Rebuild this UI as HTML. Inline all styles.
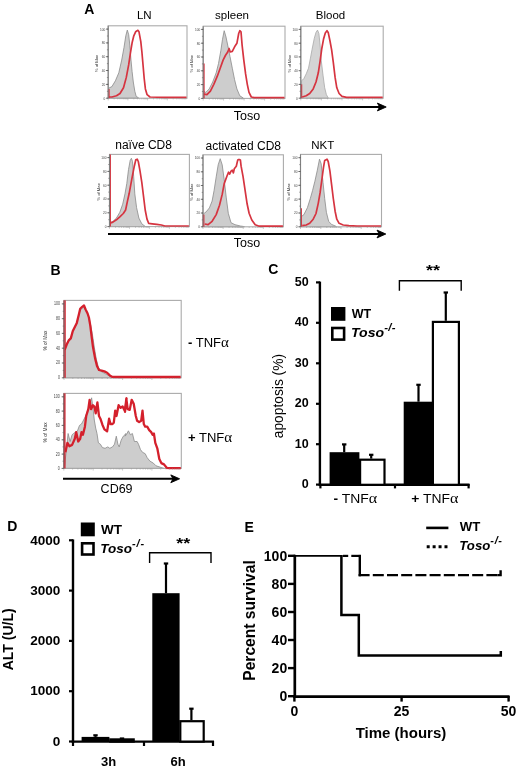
<!DOCTYPE html>
<html><head><meta charset="utf-8"><title>Figure</title>
<style>
html,body{margin:0;padding:0;background:#fff;}
body{width:520px;height:769px;overflow:hidden;}
svg{display:block;will-change:transform;font-family:"Liberation Sans",sans-serif;}
</style></head>
<body>
<svg width="520" height="769" viewBox="0 0 520 769">
<rect width="520" height="769" fill="#fff"/>
<text x="84.3" y="14.2" font-size="14" font-weight="bold" font-style="normal" text-anchor="start" fill="#000" >A</text>
<text x="144.3" y="18.7" font-size="11.5" font-weight="normal" font-style="normal" text-anchor="middle" fill="#000" >LN</text>
<text x="232" y="18.7" font-size="11.5" font-weight="normal" font-style="normal" text-anchor="middle" fill="#000" >spleen</text>
<text x="330.5" y="18.7" font-size="11.5" font-weight="normal" font-style="normal" text-anchor="middle" fill="#000" >Blood</text>
<polygon points="108.7,98.2 108.5,88.3 111.9,86.6 115.4,80.8 118.8,72.8 121.7,60.1 124.0,47.4 125.8,35.8 127.3,30.1 128.7,34.7 129.8,45.1 131.0,60.1 132.1,71.6 133.3,82.0 134.8,91.2 136.2,96.4 138.5,97.8 138.5,98.2" fill="#cdcdcd" stroke="#8a8a8a" stroke-width="0.8" stroke-linejoin="round"/>
<rect x="108.2" y="25.8" width="78.8" height="72.4" fill="none" stroke="#ababab" stroke-width="1.1"/>
<polyline points="109.0,97.0 111.9,97.0 116.5,95.8 120.0,93.5 123.5,87.8 126.3,77.4 128.7,64.7 130.4,53.2 132.1,42.8 133.8,35.8 135.6,31.8 137.9,30.3 139.0,31.8 140.8,41.6 141.9,52.0 143.1,65.8 144.2,78.5 145.4,88.9 147.1,94.7 150.0,97.0 165.0,97.4 186.5,97.4" fill="none" stroke="#d63440" stroke-width="1.7" stroke-linejoin="round"/>
<line x1="108.8" y1="98.2" x2="108.8" y2="89" stroke="#d63440" stroke-width="1.7"/>
<line x1="108.2" y1="25.8" x2="108.2" y2="98.2" stroke="#808080" stroke-width="1.1"/>
<line x1="106.9" y1="29.1" x2="108.2" y2="29.1" stroke="#666" stroke-width="0.6"/>
<line x1="106.9" y1="36.0" x2="108.2" y2="36.0" stroke="#666" stroke-width="0.6"/>
<line x1="106.9" y1="42.9" x2="108.2" y2="42.9" stroke="#666" stroke-width="0.6"/>
<line x1="106.9" y1="49.8" x2="108.2" y2="49.8" stroke="#666" stroke-width="0.6"/>
<line x1="106.9" y1="56.7" x2="108.2" y2="56.7" stroke="#666" stroke-width="0.6"/>
<line x1="106.9" y1="63.6" x2="108.2" y2="63.6" stroke="#666" stroke-width="0.6"/>
<line x1="106.9" y1="70.5" x2="108.2" y2="70.5" stroke="#666" stroke-width="0.6"/>
<line x1="106.9" y1="77.5" x2="108.2" y2="77.5" stroke="#666" stroke-width="0.6"/>
<line x1="106.9" y1="84.4" x2="108.2" y2="84.4" stroke="#666" stroke-width="0.6"/>
<line x1="106.9" y1="91.3" x2="108.2" y2="91.3" stroke="#666" stroke-width="0.6"/>
<line x1="106.9" y1="98.2" x2="108.2" y2="98.2" stroke="#666" stroke-width="0.6"/>
<line x1="106.0" y1="29.1" x2="108.2" y2="29.1" stroke="#555" stroke-width="0.8"/>
<text transform="translate(105.2 30.5) scale(0.75 1.0)" font-size="4.2" font-weight="normal" font-style="normal" text-anchor="end" fill="#444" >100</text>
<line x1="106.0" y1="42.9" x2="108.2" y2="42.9" stroke="#555" stroke-width="0.8"/>
<text transform="translate(105.2 44.3) scale(0.75 1.0)" font-size="4.2" font-weight="normal" font-style="normal" text-anchor="end" fill="#444" >80</text>
<line x1="106.0" y1="56.7" x2="108.2" y2="56.7" stroke="#555" stroke-width="0.8"/>
<text transform="translate(105.2 58.1) scale(0.75 1.0)" font-size="4.2" font-weight="normal" font-style="normal" text-anchor="end" fill="#444" >60</text>
<line x1="106.0" y1="70.5" x2="108.2" y2="70.5" stroke="#555" stroke-width="0.8"/>
<text transform="translate(105.2 71.9) scale(0.75 1.0)" font-size="4.2" font-weight="normal" font-style="normal" text-anchor="end" fill="#444" >40</text>
<line x1="106.0" y1="84.4" x2="108.2" y2="84.4" stroke="#555" stroke-width="0.8"/>
<text transform="translate(105.2 85.8) scale(0.75 1.0)" font-size="4.2" font-weight="normal" font-style="normal" text-anchor="end" fill="#444" >20</text>
<line x1="106.0" y1="98.2" x2="108.2" y2="98.2" stroke="#555" stroke-width="0.8"/>
<text transform="translate(105.2 99.6) scale(0.75 1.0)" font-size="4.2" font-weight="normal" font-style="normal" text-anchor="end" fill="#444" >0</text>
<text x="98.2" y="63.5" font-size="4.2" fill="#333" text-anchor="middle" transform="rotate(-90 98.2 63.5)">% of Max</text>
<line x1="108.2" y1="98.2" x2="108.2" y2="100.4" stroke="#999" stroke-width="0.5"/>
<line x1="114.1" y1="98.2" x2="114.1" y2="99.4" stroke="#999" stroke-width="0.5"/>
<line x1="117.7" y1="98.2" x2="117.7" y2="99.4" stroke="#999" stroke-width="0.5"/>
<line x1="120.0" y1="98.2" x2="120.0" y2="99.4" stroke="#999" stroke-width="0.5"/>
<line x1="122.0" y1="98.2" x2="122.0" y2="99.4" stroke="#999" stroke-width="0.5"/>
<line x1="123.6" y1="98.2" x2="123.6" y2="99.4" stroke="#999" stroke-width="0.5"/>
<line x1="124.9" y1="98.2" x2="124.9" y2="99.4" stroke="#999" stroke-width="0.5"/>
<line x1="125.9" y1="98.2" x2="125.9" y2="99.4" stroke="#999" stroke-width="0.5"/>
<line x1="126.9" y1="98.2" x2="126.9" y2="99.4" stroke="#999" stroke-width="0.5"/>
<line x1="127.9" y1="98.2" x2="127.9" y2="100.4" stroke="#999" stroke-width="0.5"/>
<line x1="133.8" y1="98.2" x2="133.8" y2="99.4" stroke="#999" stroke-width="0.5"/>
<line x1="137.4" y1="98.2" x2="137.4" y2="99.4" stroke="#999" stroke-width="0.5"/>
<line x1="139.7" y1="98.2" x2="139.7" y2="99.4" stroke="#999" stroke-width="0.5"/>
<line x1="141.7" y1="98.2" x2="141.7" y2="99.4" stroke="#999" stroke-width="0.5"/>
<line x1="143.3" y1="98.2" x2="143.3" y2="99.4" stroke="#999" stroke-width="0.5"/>
<line x1="144.6" y1="98.2" x2="144.6" y2="99.4" stroke="#999" stroke-width="0.5"/>
<line x1="145.6" y1="98.2" x2="145.6" y2="99.4" stroke="#999" stroke-width="0.5"/>
<line x1="146.6" y1="98.2" x2="146.6" y2="99.4" stroke="#999" stroke-width="0.5"/>
<line x1="147.6" y1="98.2" x2="147.6" y2="100.4" stroke="#999" stroke-width="0.5"/>
<line x1="153.5" y1="98.2" x2="153.5" y2="99.4" stroke="#999" stroke-width="0.5"/>
<line x1="157.1" y1="98.2" x2="157.1" y2="99.4" stroke="#999" stroke-width="0.5"/>
<line x1="159.4" y1="98.2" x2="159.4" y2="99.4" stroke="#999" stroke-width="0.5"/>
<line x1="161.4" y1="98.2" x2="161.4" y2="99.4" stroke="#999" stroke-width="0.5"/>
<line x1="163.0" y1="98.2" x2="163.0" y2="99.4" stroke="#999" stroke-width="0.5"/>
<line x1="164.3" y1="98.2" x2="164.3" y2="99.4" stroke="#999" stroke-width="0.5"/>
<line x1="165.3" y1="98.2" x2="165.3" y2="99.4" stroke="#999" stroke-width="0.5"/>
<line x1="166.3" y1="98.2" x2="166.3" y2="99.4" stroke="#999" stroke-width="0.5"/>
<line x1="167.3" y1="98.2" x2="167.3" y2="100.4" stroke="#999" stroke-width="0.5"/>
<line x1="173.2" y1="98.2" x2="173.2" y2="99.4" stroke="#999" stroke-width="0.5"/>
<line x1="176.8" y1="98.2" x2="176.8" y2="99.4" stroke="#999" stroke-width="0.5"/>
<line x1="179.1" y1="98.2" x2="179.1" y2="99.4" stroke="#999" stroke-width="0.5"/>
<line x1="181.1" y1="98.2" x2="181.1" y2="99.4" stroke="#999" stroke-width="0.5"/>
<line x1="182.7" y1="98.2" x2="182.7" y2="99.4" stroke="#999" stroke-width="0.5"/>
<line x1="184.0" y1="98.2" x2="184.0" y2="99.4" stroke="#999" stroke-width="0.5"/>
<line x1="185.0" y1="98.2" x2="185.0" y2="99.4" stroke="#999" stroke-width="0.5"/>
<line x1="186.0" y1="98.2" x2="186.0" y2="99.4" stroke="#999" stroke-width="0.5"/>
<polygon points="203.7,98.4 203.5,91.2 205.8,92.4 209.2,88.9 212.7,82.0 216.2,72.8 218.5,63.5 220.8,50.8 222.5,39.3 224.2,30.7 226.0,37.0 227.7,45.1 230.0,56.6 232.3,68.2 234.6,79.7 236.9,88.9 239.8,95.8 243.3,98.0 243.3,98.4" fill="#cdcdcd" stroke="#8a8a8a" stroke-width="0.8" stroke-linejoin="round"/>
<rect x="203.2" y="26.2" width="81.80000000000001" height="72.2" fill="none" stroke="#ababab" stroke-width="1.1"/>
<polyline points="204.0,94.1 206.9,94.7 210.4,91.2 213.8,84.3 217.3,76.2 220.2,68.2 223.1,60.1 225.4,55.5 227.7,52.0 229.1,48.5 230.2,52.0 232.3,51.4 234.6,46.8 236.9,43.3 238.7,33.5 239.8,30.7 241.0,31.8 242.1,45.1 243.8,60.1 245.6,73.9 247.3,84.3 249.0,92.4 251.3,97.0 254.2,97.6 284.5,97.6" fill="none" stroke="#d63440" stroke-width="1.7" stroke-linejoin="round"/>
<line x1="203.79999999999998" y1="98.4" x2="203.79999999999998" y2="63.5" stroke="#d63440" stroke-width="1.7"/>
<line x1="203.2" y1="26.2" x2="203.2" y2="98.4" stroke="#808080" stroke-width="1.1"/>
<line x1="201.89999999999998" y1="29.4" x2="203.2" y2="29.4" stroke="#666" stroke-width="0.6"/>
<line x1="201.89999999999998" y1="36.3" x2="203.2" y2="36.3" stroke="#666" stroke-width="0.6"/>
<line x1="201.89999999999998" y1="43.2" x2="203.2" y2="43.2" stroke="#666" stroke-width="0.6"/>
<line x1="201.89999999999998" y1="50.1" x2="203.2" y2="50.1" stroke="#666" stroke-width="0.6"/>
<line x1="201.89999999999998" y1="57.0" x2="203.2" y2="57.0" stroke="#666" stroke-width="0.6"/>
<line x1="201.89999999999998" y1="63.9" x2="203.2" y2="63.9" stroke="#666" stroke-width="0.6"/>
<line x1="201.89999999999998" y1="70.8" x2="203.2" y2="70.8" stroke="#666" stroke-width="0.6"/>
<line x1="201.89999999999998" y1="77.7" x2="203.2" y2="77.7" stroke="#666" stroke-width="0.6"/>
<line x1="201.89999999999998" y1="84.6" x2="203.2" y2="84.6" stroke="#666" stroke-width="0.6"/>
<line x1="201.89999999999998" y1="91.5" x2="203.2" y2="91.5" stroke="#666" stroke-width="0.6"/>
<line x1="201.89999999999998" y1="98.4" x2="203.2" y2="98.4" stroke="#666" stroke-width="0.6"/>
<line x1="201.0" y1="29.4" x2="203.2" y2="29.4" stroke="#555" stroke-width="0.8"/>
<text transform="translate(200.2 30.8) scale(0.75 1.0)" font-size="4.2" font-weight="normal" font-style="normal" text-anchor="end" fill="#444" >100</text>
<line x1="201.0" y1="43.2" x2="203.2" y2="43.2" stroke="#555" stroke-width="0.8"/>
<text transform="translate(200.2 44.6) scale(0.75 1.0)" font-size="4.2" font-weight="normal" font-style="normal" text-anchor="end" fill="#444" >80</text>
<line x1="201.0" y1="57.0" x2="203.2" y2="57.0" stroke="#555" stroke-width="0.8"/>
<text transform="translate(200.2 58.4) scale(0.75 1.0)" font-size="4.2" font-weight="normal" font-style="normal" text-anchor="end" fill="#444" >60</text>
<line x1="201.0" y1="70.8" x2="203.2" y2="70.8" stroke="#555" stroke-width="0.8"/>
<text transform="translate(200.2 72.2) scale(0.75 1.0)" font-size="4.2" font-weight="normal" font-style="normal" text-anchor="end" fill="#444" >40</text>
<line x1="201.0" y1="84.6" x2="203.2" y2="84.6" stroke="#555" stroke-width="0.8"/>
<text transform="translate(200.2 86.0) scale(0.75 1.0)" font-size="4.2" font-weight="normal" font-style="normal" text-anchor="end" fill="#444" >20</text>
<line x1="201.0" y1="98.4" x2="203.2" y2="98.4" stroke="#555" stroke-width="0.8"/>
<text transform="translate(200.2 99.8) scale(0.75 1.0)" font-size="4.2" font-weight="normal" font-style="normal" text-anchor="end" fill="#444" >0</text>
<text x="193.2" y="63.800000000000004" font-size="4.2" fill="#333" text-anchor="middle" transform="rotate(-90 193.2 63.800000000000004)">% of Max</text>
<line x1="203.2" y1="98.4" x2="203.2" y2="100.60000000000001" stroke="#999" stroke-width="0.5"/>
<line x1="209.3" y1="98.4" x2="209.3" y2="99.60000000000001" stroke="#999" stroke-width="0.5"/>
<line x1="213.0" y1="98.4" x2="213.0" y2="99.60000000000001" stroke="#999" stroke-width="0.5"/>
<line x1="215.5" y1="98.4" x2="215.5" y2="99.60000000000001" stroke="#999" stroke-width="0.5"/>
<line x1="217.5" y1="98.4" x2="217.5" y2="99.60000000000001" stroke="#999" stroke-width="0.5"/>
<line x1="219.2" y1="98.4" x2="219.2" y2="99.60000000000001" stroke="#999" stroke-width="0.5"/>
<line x1="220.6" y1="98.4" x2="220.6" y2="99.60000000000001" stroke="#999" stroke-width="0.5"/>
<line x1="221.6" y1="98.4" x2="221.6" y2="99.60000000000001" stroke="#999" stroke-width="0.5"/>
<line x1="222.6" y1="98.4" x2="222.6" y2="99.60000000000001" stroke="#999" stroke-width="0.5"/>
<line x1="223.6" y1="98.4" x2="223.6" y2="100.60000000000001" stroke="#999" stroke-width="0.5"/>
<line x1="229.8" y1="98.4" x2="229.8" y2="99.60000000000001" stroke="#999" stroke-width="0.5"/>
<line x1="233.5" y1="98.4" x2="233.5" y2="99.60000000000001" stroke="#999" stroke-width="0.5"/>
<line x1="235.9" y1="98.4" x2="235.9" y2="99.60000000000001" stroke="#999" stroke-width="0.5"/>
<line x1="238.0" y1="98.4" x2="238.0" y2="99.60000000000001" stroke="#999" stroke-width="0.5"/>
<line x1="239.6" y1="98.4" x2="239.6" y2="99.60000000000001" stroke="#999" stroke-width="0.5"/>
<line x1="241.0" y1="98.4" x2="241.0" y2="99.60000000000001" stroke="#999" stroke-width="0.5"/>
<line x1="242.1" y1="98.4" x2="242.1" y2="99.60000000000001" stroke="#999" stroke-width="0.5"/>
<line x1="243.1" y1="98.4" x2="243.1" y2="99.60000000000001" stroke="#999" stroke-width="0.5"/>
<line x1="244.1" y1="98.4" x2="244.1" y2="100.60000000000001" stroke="#999" stroke-width="0.5"/>
<line x1="250.2" y1="98.4" x2="250.2" y2="99.60000000000001" stroke="#999" stroke-width="0.5"/>
<line x1="253.9" y1="98.4" x2="253.9" y2="99.60000000000001" stroke="#999" stroke-width="0.5"/>
<line x1="256.4" y1="98.4" x2="256.4" y2="99.60000000000001" stroke="#999" stroke-width="0.5"/>
<line x1="258.4" y1="98.4" x2="258.4" y2="99.60000000000001" stroke="#999" stroke-width="0.5"/>
<line x1="260.1" y1="98.4" x2="260.1" y2="99.60000000000001" stroke="#999" stroke-width="0.5"/>
<line x1="261.5" y1="98.4" x2="261.5" y2="99.60000000000001" stroke="#999" stroke-width="0.5"/>
<line x1="262.5" y1="98.4" x2="262.5" y2="99.60000000000001" stroke="#999" stroke-width="0.5"/>
<line x1="263.5" y1="98.4" x2="263.5" y2="99.60000000000001" stroke="#999" stroke-width="0.5"/>
<line x1="264.6" y1="98.4" x2="264.6" y2="100.60000000000001" stroke="#999" stroke-width="0.5"/>
<line x1="270.7" y1="98.4" x2="270.7" y2="99.60000000000001" stroke="#999" stroke-width="0.5"/>
<line x1="274.4" y1="98.4" x2="274.4" y2="99.60000000000001" stroke="#999" stroke-width="0.5"/>
<line x1="276.8" y1="98.4" x2="276.8" y2="99.60000000000001" stroke="#999" stroke-width="0.5"/>
<line x1="278.9" y1="98.4" x2="278.9" y2="99.60000000000001" stroke="#999" stroke-width="0.5"/>
<line x1="280.5" y1="98.4" x2="280.5" y2="99.60000000000001" stroke="#999" stroke-width="0.5"/>
<line x1="281.9" y1="98.4" x2="281.9" y2="99.60000000000001" stroke="#999" stroke-width="0.5"/>
<line x1="283.0" y1="98.4" x2="283.0" y2="99.60000000000001" stroke="#999" stroke-width="0.5"/>
<line x1="284.0" y1="98.4" x2="284.0" y2="99.60000000000001" stroke="#999" stroke-width="0.5"/>
<polygon points="301.3,98.2 301.6,80.8 303.9,78.5 306.2,73.9 308.5,68.2 310.3,58.9 312.0,49.7 314.3,38.2 316.0,32.4 317.5,30.1 318.9,33.5 320.1,45.1 321.2,60.1 323.0,75.1 324.7,87.8 326.4,94.7 328.2,97.8 328.2,98.2" fill="#d4d4d4" stroke="#a8a8a8" stroke-width="0.8" stroke-linejoin="round"/>
<rect x="300.8" y="26.2" width="82.39999999999998" height="72.0" fill="none" stroke="#ababab" stroke-width="1.1"/>
<polyline points="302.2,97.0 306.2,95.8 309.7,93.5 313.2,88.9 316.0,82.0 318.3,72.8 320.1,61.2 321.8,48.5 323.5,39.3 325.3,33.0 327.0,30.7 328.2,32.4 329.9,40.5 331.6,49.7 333.3,62.4 335.1,77.4 336.8,87.8 339.1,93.5 342.0,96.4 346.6,97.4 382.7,97.4" fill="none" stroke="#d63440" stroke-width="1.7" stroke-linejoin="round"/>
<line x1="301.40000000000003" y1="98.2" x2="301.40000000000003" y2="84.3" stroke="#d63440" stroke-width="1.7"/>
<line x1="300.8" y1="26.2" x2="300.8" y2="98.2" stroke="#808080" stroke-width="1.1"/>
<line x1="299.5" y1="29.4" x2="300.8" y2="29.4" stroke="#666" stroke-width="0.6"/>
<line x1="299.5" y1="36.3" x2="300.8" y2="36.3" stroke="#666" stroke-width="0.6"/>
<line x1="299.5" y1="43.2" x2="300.8" y2="43.2" stroke="#666" stroke-width="0.6"/>
<line x1="299.5" y1="50.1" x2="300.8" y2="50.1" stroke="#666" stroke-width="0.6"/>
<line x1="299.5" y1="56.9" x2="300.8" y2="56.9" stroke="#666" stroke-width="0.6"/>
<line x1="299.5" y1="63.8" x2="300.8" y2="63.8" stroke="#666" stroke-width="0.6"/>
<line x1="299.5" y1="70.7" x2="300.8" y2="70.7" stroke="#666" stroke-width="0.6"/>
<line x1="299.5" y1="77.6" x2="300.8" y2="77.6" stroke="#666" stroke-width="0.6"/>
<line x1="299.5" y1="84.4" x2="300.8" y2="84.4" stroke="#666" stroke-width="0.6"/>
<line x1="299.5" y1="91.3" x2="300.8" y2="91.3" stroke="#666" stroke-width="0.6"/>
<line x1="299.5" y1="98.2" x2="300.8" y2="98.2" stroke="#666" stroke-width="0.6"/>
<line x1="298.6" y1="29.4" x2="300.8" y2="29.4" stroke="#555" stroke-width="0.8"/>
<text transform="translate(297.8 30.8) scale(0.75 1.0)" font-size="4.2" font-weight="normal" font-style="normal" text-anchor="end" fill="#444" >100</text>
<line x1="298.6" y1="43.2" x2="300.8" y2="43.2" stroke="#555" stroke-width="0.8"/>
<text transform="translate(297.8 44.6) scale(0.75 1.0)" font-size="4.2" font-weight="normal" font-style="normal" text-anchor="end" fill="#444" >80</text>
<line x1="298.6" y1="56.9" x2="300.8" y2="56.9" stroke="#555" stroke-width="0.8"/>
<text transform="translate(297.8 58.3) scale(0.75 1.0)" font-size="4.2" font-weight="normal" font-style="normal" text-anchor="end" fill="#444" >60</text>
<line x1="298.6" y1="70.7" x2="300.8" y2="70.7" stroke="#555" stroke-width="0.8"/>
<text transform="translate(297.8 72.1) scale(0.75 1.0)" font-size="4.2" font-weight="normal" font-style="normal" text-anchor="end" fill="#444" >40</text>
<line x1="298.6" y1="84.4" x2="300.8" y2="84.4" stroke="#555" stroke-width="0.8"/>
<text transform="translate(297.8 85.8) scale(0.75 1.0)" font-size="4.2" font-weight="normal" font-style="normal" text-anchor="end" fill="#444" >20</text>
<line x1="298.6" y1="98.2" x2="300.8" y2="98.2" stroke="#555" stroke-width="0.8"/>
<text transform="translate(297.8 99.6) scale(0.75 1.0)" font-size="4.2" font-weight="normal" font-style="normal" text-anchor="end" fill="#444" >0</text>
<text x="290.8" y="63.7" font-size="4.2" fill="#333" text-anchor="middle" transform="rotate(-90 290.8 63.7)">% of Max</text>
<line x1="300.8" y1="98.2" x2="300.8" y2="100.4" stroke="#999" stroke-width="0.5"/>
<line x1="307.0" y1="98.2" x2="307.0" y2="99.4" stroke="#999" stroke-width="0.5"/>
<line x1="310.7" y1="98.2" x2="310.7" y2="99.4" stroke="#999" stroke-width="0.5"/>
<line x1="313.2" y1="98.2" x2="313.2" y2="99.4" stroke="#999" stroke-width="0.5"/>
<line x1="315.2" y1="98.2" x2="315.2" y2="99.4" stroke="#999" stroke-width="0.5"/>
<line x1="316.9" y1="98.2" x2="316.9" y2="99.4" stroke="#999" stroke-width="0.5"/>
<line x1="318.3" y1="98.2" x2="318.3" y2="99.4" stroke="#999" stroke-width="0.5"/>
<line x1="319.3" y1="98.2" x2="319.3" y2="99.4" stroke="#999" stroke-width="0.5"/>
<line x1="320.4" y1="98.2" x2="320.4" y2="99.4" stroke="#999" stroke-width="0.5"/>
<line x1="321.4" y1="98.2" x2="321.4" y2="100.4" stroke="#999" stroke-width="0.5"/>
<line x1="327.6" y1="98.2" x2="327.6" y2="99.4" stroke="#999" stroke-width="0.5"/>
<line x1="331.3" y1="98.2" x2="331.3" y2="99.4" stroke="#999" stroke-width="0.5"/>
<line x1="333.8" y1="98.2" x2="333.8" y2="99.4" stroke="#999" stroke-width="0.5"/>
<line x1="335.8" y1="98.2" x2="335.8" y2="99.4" stroke="#999" stroke-width="0.5"/>
<line x1="337.5" y1="98.2" x2="337.5" y2="99.4" stroke="#999" stroke-width="0.5"/>
<line x1="338.9" y1="98.2" x2="338.9" y2="99.4" stroke="#999" stroke-width="0.5"/>
<line x1="339.9" y1="98.2" x2="339.9" y2="99.4" stroke="#999" stroke-width="0.5"/>
<line x1="341.0" y1="98.2" x2="341.0" y2="99.4" stroke="#999" stroke-width="0.5"/>
<line x1="342.0" y1="98.2" x2="342.0" y2="100.4" stroke="#999" stroke-width="0.5"/>
<line x1="348.2" y1="98.2" x2="348.2" y2="99.4" stroke="#999" stroke-width="0.5"/>
<line x1="351.9" y1="98.2" x2="351.9" y2="99.4" stroke="#999" stroke-width="0.5"/>
<line x1="354.4" y1="98.2" x2="354.4" y2="99.4" stroke="#999" stroke-width="0.5"/>
<line x1="356.4" y1="98.2" x2="356.4" y2="99.4" stroke="#999" stroke-width="0.5"/>
<line x1="358.1" y1="98.2" x2="358.1" y2="99.4" stroke="#999" stroke-width="0.5"/>
<line x1="359.5" y1="98.2" x2="359.5" y2="99.4" stroke="#999" stroke-width="0.5"/>
<line x1="360.5" y1="98.2" x2="360.5" y2="99.4" stroke="#999" stroke-width="0.5"/>
<line x1="361.6" y1="98.2" x2="361.6" y2="99.4" stroke="#999" stroke-width="0.5"/>
<line x1="362.6" y1="98.2" x2="362.6" y2="100.4" stroke="#999" stroke-width="0.5"/>
<line x1="368.8" y1="98.2" x2="368.8" y2="99.4" stroke="#999" stroke-width="0.5"/>
<line x1="372.5" y1="98.2" x2="372.5" y2="99.4" stroke="#999" stroke-width="0.5"/>
<line x1="375.0" y1="98.2" x2="375.0" y2="99.4" stroke="#999" stroke-width="0.5"/>
<line x1="377.0" y1="98.2" x2="377.0" y2="99.4" stroke="#999" stroke-width="0.5"/>
<line x1="378.7" y1="98.2" x2="378.7" y2="99.4" stroke="#999" stroke-width="0.5"/>
<line x1="380.1" y1="98.2" x2="380.1" y2="99.4" stroke="#999" stroke-width="0.5"/>
<line x1="381.1" y1="98.2" x2="381.1" y2="99.4" stroke="#999" stroke-width="0.5"/>
<line x1="382.2" y1="98.2" x2="382.2" y2="99.4" stroke="#999" stroke-width="0.5"/>
<line x1="108" y1="107" x2="382.2" y2="107" stroke="#000" stroke-width="2.0"/>
<path d="M386.2,107 L377.4,103.1 L379.59999999999997,107 L377.4,110.9 Z" fill="#000" stroke="#000" stroke-width="0.9" stroke-linejoin="round"/>
<text x="247" y="120" font-size="12.5" font-weight="normal" font-style="normal" text-anchor="middle" fill="#000" >Toso</text>
<text x="143.6" y="148.8" font-size="12" font-weight="normal" font-style="normal" text-anchor="middle" fill="#000" >na&#239;ve CD8</text>
<text x="243.3" y="149.5" font-size="12" font-weight="normal" font-style="normal" text-anchor="middle" fill="#000" >activated CD8</text>
<text x="322.7" y="148.8" font-size="11.5" font-weight="normal" font-style="normal" text-anchor="middle" fill="#000" >NKT</text>
<polygon points="110.0,226.6 109.5,222.7 112.9,221.5 116.4,218.1 119.8,212.3 122.7,204.2 125.0,193.8 126.8,183.5 128.5,169.6 130.2,160.4 131.4,158.3 132.5,161.5 133.7,176.5 134.8,193.8 136.6,207.7 138.9,218.1 141.8,223.8 145.2,226.4 145.2,226.6" fill="#cdcdcd" stroke="#8a8a8a" stroke-width="0.8" stroke-linejoin="round"/>
<rect x="109.5" y="154.4" width="79.9" height="72.19999999999999" fill="none" stroke="#ababab" stroke-width="1.1"/>
<polyline points="109.8,223.3 112.9,222.1 116.4,219.8 119.8,216.9 123.3,213.5 125.6,210.0 127.3,201.9 129.1,193.8 130.8,184.6 132.5,175.4 134.3,166.2 135.8,159.8 137.2,159.2 138.3,161.5 140.0,170.8 141.8,182.3 143.5,196.2 145.2,210.0 147.0,219.2 148.7,223.3 152.2,223.8 156.8,224.4 161.4,225.0 164.8,226.0 188.9,226.0" fill="none" stroke="#d63440" stroke-width="1.7" stroke-linejoin="round"/>
<line x1="110.1" y1="226.6" x2="110.1" y2="154.4" stroke="#d63440" stroke-width="1.7"/>
<line x1="109.5" y1="154.4" x2="109.5" y2="226.6" stroke="#808080" stroke-width="1.1"/>
<line x1="108.2" y1="157.6" x2="109.5" y2="157.6" stroke="#666" stroke-width="0.6"/>
<line x1="108.2" y1="164.5" x2="109.5" y2="164.5" stroke="#666" stroke-width="0.6"/>
<line x1="108.2" y1="171.4" x2="109.5" y2="171.4" stroke="#666" stroke-width="0.6"/>
<line x1="108.2" y1="178.3" x2="109.5" y2="178.3" stroke="#666" stroke-width="0.6"/>
<line x1="108.2" y1="185.2" x2="109.5" y2="185.2" stroke="#666" stroke-width="0.6"/>
<line x1="108.2" y1="192.1" x2="109.5" y2="192.1" stroke="#666" stroke-width="0.6"/>
<line x1="108.2" y1="199.0" x2="109.5" y2="199.0" stroke="#666" stroke-width="0.6"/>
<line x1="108.2" y1="205.9" x2="109.5" y2="205.9" stroke="#666" stroke-width="0.6"/>
<line x1="108.2" y1="212.8" x2="109.5" y2="212.8" stroke="#666" stroke-width="0.6"/>
<line x1="108.2" y1="219.7" x2="109.5" y2="219.7" stroke="#666" stroke-width="0.6"/>
<line x1="108.2" y1="226.6" x2="109.5" y2="226.6" stroke="#666" stroke-width="0.6"/>
<line x1="107.3" y1="157.6" x2="109.5" y2="157.6" stroke="#555" stroke-width="0.8"/>
<text transform="translate(106.5 159.0) scale(0.75 1.0)" font-size="4.2" font-weight="normal" font-style="normal" text-anchor="end" fill="#444" >100</text>
<line x1="107.3" y1="171.4" x2="109.5" y2="171.4" stroke="#555" stroke-width="0.8"/>
<text transform="translate(106.5 172.8) scale(0.75 1.0)" font-size="4.2" font-weight="normal" font-style="normal" text-anchor="end" fill="#444" >80</text>
<line x1="107.3" y1="185.2" x2="109.5" y2="185.2" stroke="#555" stroke-width="0.8"/>
<text transform="translate(106.5 186.6) scale(0.75 1.0)" font-size="4.2" font-weight="normal" font-style="normal" text-anchor="end" fill="#444" >60</text>
<line x1="107.3" y1="199.0" x2="109.5" y2="199.0" stroke="#555" stroke-width="0.8"/>
<text transform="translate(106.5 200.4) scale(0.75 1.0)" font-size="4.2" font-weight="normal" font-style="normal" text-anchor="end" fill="#444" >40</text>
<line x1="107.3" y1="212.8" x2="109.5" y2="212.8" stroke="#555" stroke-width="0.8"/>
<text transform="translate(106.5 214.2) scale(0.75 1.0)" font-size="4.2" font-weight="normal" font-style="normal" text-anchor="end" fill="#444" >20</text>
<line x1="107.3" y1="226.6" x2="109.5" y2="226.6" stroke="#555" stroke-width="0.8"/>
<text transform="translate(106.5 228.0) scale(0.75 1.0)" font-size="4.2" font-weight="normal" font-style="normal" text-anchor="end" fill="#444" >0</text>
<text x="99.5" y="192.0" font-size="4.2" fill="#333" text-anchor="middle" transform="rotate(-90 99.5 192.0)">% of Max</text>
<line x1="109.5" y1="226.6" x2="109.5" y2="228.79999999999998" stroke="#999" stroke-width="0.5"/>
<line x1="115.5" y1="226.6" x2="115.5" y2="227.79999999999998" stroke="#999" stroke-width="0.5"/>
<line x1="119.1" y1="226.6" x2="119.1" y2="227.79999999999998" stroke="#999" stroke-width="0.5"/>
<line x1="121.5" y1="226.6" x2="121.5" y2="227.79999999999998" stroke="#999" stroke-width="0.5"/>
<line x1="123.5" y1="226.6" x2="123.5" y2="227.79999999999998" stroke="#999" stroke-width="0.5"/>
<line x1="125.1" y1="226.6" x2="125.1" y2="227.79999999999998" stroke="#999" stroke-width="0.5"/>
<line x1="126.5" y1="226.6" x2="126.5" y2="227.79999999999998" stroke="#999" stroke-width="0.5"/>
<line x1="127.5" y1="226.6" x2="127.5" y2="227.79999999999998" stroke="#999" stroke-width="0.5"/>
<line x1="128.5" y1="226.6" x2="128.5" y2="227.79999999999998" stroke="#999" stroke-width="0.5"/>
<line x1="129.5" y1="226.6" x2="129.5" y2="228.79999999999998" stroke="#999" stroke-width="0.5"/>
<line x1="135.5" y1="226.6" x2="135.5" y2="227.79999999999998" stroke="#999" stroke-width="0.5"/>
<line x1="139.1" y1="226.6" x2="139.1" y2="227.79999999999998" stroke="#999" stroke-width="0.5"/>
<line x1="141.5" y1="226.6" x2="141.5" y2="227.79999999999998" stroke="#999" stroke-width="0.5"/>
<line x1="143.5" y1="226.6" x2="143.5" y2="227.79999999999998" stroke="#999" stroke-width="0.5"/>
<line x1="145.1" y1="226.6" x2="145.1" y2="227.79999999999998" stroke="#999" stroke-width="0.5"/>
<line x1="146.5" y1="226.6" x2="146.5" y2="227.79999999999998" stroke="#999" stroke-width="0.5"/>
<line x1="147.5" y1="226.6" x2="147.5" y2="227.79999999999998" stroke="#999" stroke-width="0.5"/>
<line x1="148.5" y1="226.6" x2="148.5" y2="227.79999999999998" stroke="#999" stroke-width="0.5"/>
<line x1="149.4" y1="226.6" x2="149.4" y2="228.79999999999998" stroke="#999" stroke-width="0.5"/>
<line x1="155.4" y1="226.6" x2="155.4" y2="227.79999999999998" stroke="#999" stroke-width="0.5"/>
<line x1="159.0" y1="226.6" x2="159.0" y2="227.79999999999998" stroke="#999" stroke-width="0.5"/>
<line x1="161.4" y1="226.6" x2="161.4" y2="227.79999999999998" stroke="#999" stroke-width="0.5"/>
<line x1="163.4" y1="226.6" x2="163.4" y2="227.79999999999998" stroke="#999" stroke-width="0.5"/>
<line x1="165.0" y1="226.6" x2="165.0" y2="227.79999999999998" stroke="#999" stroke-width="0.5"/>
<line x1="166.4" y1="226.6" x2="166.4" y2="227.79999999999998" stroke="#999" stroke-width="0.5"/>
<line x1="167.4" y1="226.6" x2="167.4" y2="227.79999999999998" stroke="#999" stroke-width="0.5"/>
<line x1="168.4" y1="226.6" x2="168.4" y2="227.79999999999998" stroke="#999" stroke-width="0.5"/>
<line x1="169.4" y1="226.6" x2="169.4" y2="228.79999999999998" stroke="#999" stroke-width="0.5"/>
<line x1="175.4" y1="226.6" x2="175.4" y2="227.79999999999998" stroke="#999" stroke-width="0.5"/>
<line x1="179.0" y1="226.6" x2="179.0" y2="227.79999999999998" stroke="#999" stroke-width="0.5"/>
<line x1="181.4" y1="226.6" x2="181.4" y2="227.79999999999998" stroke="#999" stroke-width="0.5"/>
<line x1="183.4" y1="226.6" x2="183.4" y2="227.79999999999998" stroke="#999" stroke-width="0.5"/>
<line x1="185.0" y1="226.6" x2="185.0" y2="227.79999999999998" stroke="#999" stroke-width="0.5"/>
<line x1="186.4" y1="226.6" x2="186.4" y2="227.79999999999998" stroke="#999" stroke-width="0.5"/>
<line x1="187.4" y1="226.6" x2="187.4" y2="227.79999999999998" stroke="#999" stroke-width="0.5"/>
<line x1="188.4" y1="226.6" x2="188.4" y2="227.79999999999998" stroke="#999" stroke-width="0.5"/>
<polygon points="203.5,226.8 203.4,213.9 206.1,211.9 209.4,207.9 212.1,201.1 214.1,190.4 216.2,176.9 218.2,164.8 220.2,158.7 222.2,164.8 224.2,179.6 226.2,197.1 228.3,213.3 231.0,222.7 235.0,224.7 240.4,226.0 244.4,226.6 244.4,226.8" fill="#cdcdcd" stroke="#8a8a8a" stroke-width="0.8" stroke-linejoin="round"/>
<rect x="203" y="154.8" width="80.39999999999998" height="72.0" fill="none" stroke="#ababab" stroke-width="1.1"/>
<polyline points="204.7,224.0 208.1,224.7 212.1,221.3 216.2,214.6 219.5,205.2 222.2,194.4 224.2,183.6 226.9,176.2 228.5,172.2 229.6,174.2 231.2,170.9 232.3,170.2 233.4,172.9 234.3,168.8 236.3,166.2 237.7,160.1 239.0,159.4 240.4,160.1 241.1,166.2 243.1,176.9 245.1,190.4 247.1,203.8 249.1,213.3 251.8,220.0 255.2,224.7 259.2,226.2 282.9,226.2" fill="none" stroke="#d63440" stroke-width="1.7" stroke-linejoin="round"/>
<line x1="203.6" y1="226.8" x2="203.6" y2="214.6" stroke="#d63440" stroke-width="1.7"/>
<line x1="203" y1="154.8" x2="203" y2="226.8" stroke="#808080" stroke-width="1.1"/>
<line x1="201.7" y1="158.0" x2="203" y2="158.0" stroke="#666" stroke-width="0.6"/>
<line x1="201.7" y1="164.9" x2="203" y2="164.9" stroke="#666" stroke-width="0.6"/>
<line x1="201.7" y1="171.8" x2="203" y2="171.8" stroke="#666" stroke-width="0.6"/>
<line x1="201.7" y1="178.7" x2="203" y2="178.7" stroke="#666" stroke-width="0.6"/>
<line x1="201.7" y1="185.5" x2="203" y2="185.5" stroke="#666" stroke-width="0.6"/>
<line x1="201.7" y1="192.4" x2="203" y2="192.4" stroke="#666" stroke-width="0.6"/>
<line x1="201.7" y1="199.3" x2="203" y2="199.3" stroke="#666" stroke-width="0.6"/>
<line x1="201.7" y1="206.2" x2="203" y2="206.2" stroke="#666" stroke-width="0.6"/>
<line x1="201.7" y1="213.0" x2="203" y2="213.0" stroke="#666" stroke-width="0.6"/>
<line x1="201.7" y1="219.9" x2="203" y2="219.9" stroke="#666" stroke-width="0.6"/>
<line x1="201.7" y1="226.8" x2="203" y2="226.8" stroke="#666" stroke-width="0.6"/>
<line x1="200.8" y1="158.0" x2="203" y2="158.0" stroke="#555" stroke-width="0.8"/>
<text transform="translate(200 159.4) scale(0.75 1.0)" font-size="4.2" font-weight="normal" font-style="normal" text-anchor="end" fill="#444" >100</text>
<line x1="200.8" y1="171.8" x2="203" y2="171.8" stroke="#555" stroke-width="0.8"/>
<text transform="translate(200 173.2) scale(0.75 1.0)" font-size="4.2" font-weight="normal" font-style="normal" text-anchor="end" fill="#444" >80</text>
<line x1="200.8" y1="185.5" x2="203" y2="185.5" stroke="#555" stroke-width="0.8"/>
<text transform="translate(200 186.9) scale(0.75 1.0)" font-size="4.2" font-weight="normal" font-style="normal" text-anchor="end" fill="#444" >60</text>
<line x1="200.8" y1="199.3" x2="203" y2="199.3" stroke="#555" stroke-width="0.8"/>
<text transform="translate(200 200.7) scale(0.75 1.0)" font-size="4.2" font-weight="normal" font-style="normal" text-anchor="end" fill="#444" >40</text>
<line x1="200.8" y1="213.0" x2="203" y2="213.0" stroke="#555" stroke-width="0.8"/>
<text transform="translate(200 214.4) scale(0.75 1.0)" font-size="4.2" font-weight="normal" font-style="normal" text-anchor="end" fill="#444" >20</text>
<line x1="200.8" y1="226.8" x2="203" y2="226.8" stroke="#555" stroke-width="0.8"/>
<text transform="translate(200 228.2) scale(0.75 1.0)" font-size="4.2" font-weight="normal" font-style="normal" text-anchor="end" fill="#444" >0</text>
<text x="193" y="192.3" font-size="4.2" fill="#333" text-anchor="middle" transform="rotate(-90 193 192.3)">% of Max</text>
<line x1="203.0" y1="226.8" x2="203.0" y2="229.0" stroke="#999" stroke-width="0.5"/>
<line x1="209.0" y1="226.8" x2="209.0" y2="228.0" stroke="#999" stroke-width="0.5"/>
<line x1="212.6" y1="226.8" x2="212.6" y2="228.0" stroke="#999" stroke-width="0.5"/>
<line x1="215.1" y1="226.8" x2="215.1" y2="228.0" stroke="#999" stroke-width="0.5"/>
<line x1="217.1" y1="226.8" x2="217.1" y2="228.0" stroke="#999" stroke-width="0.5"/>
<line x1="218.7" y1="226.8" x2="218.7" y2="228.0" stroke="#999" stroke-width="0.5"/>
<line x1="220.1" y1="226.8" x2="220.1" y2="228.0" stroke="#999" stroke-width="0.5"/>
<line x1="221.1" y1="226.8" x2="221.1" y2="228.0" stroke="#999" stroke-width="0.5"/>
<line x1="222.1" y1="226.8" x2="222.1" y2="228.0" stroke="#999" stroke-width="0.5"/>
<line x1="223.1" y1="226.8" x2="223.1" y2="229.0" stroke="#999" stroke-width="0.5"/>
<line x1="229.1" y1="226.8" x2="229.1" y2="228.0" stroke="#999" stroke-width="0.5"/>
<line x1="232.7" y1="226.8" x2="232.7" y2="228.0" stroke="#999" stroke-width="0.5"/>
<line x1="235.2" y1="226.8" x2="235.2" y2="228.0" stroke="#999" stroke-width="0.5"/>
<line x1="237.2" y1="226.8" x2="237.2" y2="228.0" stroke="#999" stroke-width="0.5"/>
<line x1="238.8" y1="226.8" x2="238.8" y2="228.0" stroke="#999" stroke-width="0.5"/>
<line x1="240.2" y1="226.8" x2="240.2" y2="228.0" stroke="#999" stroke-width="0.5"/>
<line x1="241.2" y1="226.8" x2="241.2" y2="228.0" stroke="#999" stroke-width="0.5"/>
<line x1="242.2" y1="226.8" x2="242.2" y2="228.0" stroke="#999" stroke-width="0.5"/>
<line x1="243.2" y1="226.8" x2="243.2" y2="229.0" stroke="#999" stroke-width="0.5"/>
<line x1="249.2" y1="226.8" x2="249.2" y2="228.0" stroke="#999" stroke-width="0.5"/>
<line x1="252.8" y1="226.8" x2="252.8" y2="228.0" stroke="#999" stroke-width="0.5"/>
<line x1="255.3" y1="226.8" x2="255.3" y2="228.0" stroke="#999" stroke-width="0.5"/>
<line x1="257.3" y1="226.8" x2="257.3" y2="228.0" stroke="#999" stroke-width="0.5"/>
<line x1="258.9" y1="226.8" x2="258.9" y2="228.0" stroke="#999" stroke-width="0.5"/>
<line x1="260.3" y1="226.8" x2="260.3" y2="228.0" stroke="#999" stroke-width="0.5"/>
<line x1="261.3" y1="226.8" x2="261.3" y2="228.0" stroke="#999" stroke-width="0.5"/>
<line x1="262.3" y1="226.8" x2="262.3" y2="228.0" stroke="#999" stroke-width="0.5"/>
<line x1="263.3" y1="226.8" x2="263.3" y2="229.0" stroke="#999" stroke-width="0.5"/>
<line x1="269.3" y1="226.8" x2="269.3" y2="228.0" stroke="#999" stroke-width="0.5"/>
<line x1="272.9" y1="226.8" x2="272.9" y2="228.0" stroke="#999" stroke-width="0.5"/>
<line x1="275.4" y1="226.8" x2="275.4" y2="228.0" stroke="#999" stroke-width="0.5"/>
<line x1="277.4" y1="226.8" x2="277.4" y2="228.0" stroke="#999" stroke-width="0.5"/>
<line x1="279.0" y1="226.8" x2="279.0" y2="228.0" stroke="#999" stroke-width="0.5"/>
<line x1="280.4" y1="226.8" x2="280.4" y2="228.0" stroke="#999" stroke-width="0.5"/>
<line x1="281.4" y1="226.8" x2="281.4" y2="228.0" stroke="#999" stroke-width="0.5"/>
<line x1="282.4" y1="226.8" x2="282.4" y2="228.0" stroke="#999" stroke-width="0.5"/>
<polygon points="301.0,226.8 301.0,216.9 303.9,214.6 307.4,207.7 310.3,198.5 312.6,190.4 314.9,181.2 317.2,170.8 319.5,159.2 321.2,163.8 323.0,182.3 324.7,198.5 326.4,212.3 328.7,221.5 331.6,224.4 336.2,226.4 336.2,226.8" fill="#cdcdcd" stroke="#8a8a8a" stroke-width="0.8" stroke-linejoin="round"/>
<rect x="300.5" y="154.4" width="81.0" height="72.4" fill="none" stroke="#ababab" stroke-width="1.1"/>
<polyline points="302.2,225.6 306.2,225.0 309.7,223.3 313.2,219.2 316.0,213.5 318.3,203.1 320.1,192.7 321.8,180.0 323.5,167.3 324.7,160.4 327.0,159.2 328.2,161.5 329.9,170.8 331.6,184.6 333.3,198.5 335.1,211.2 336.8,219.2 339.1,223.3 343.2,225.0 348.9,225.6 357.0,226.0 381.0,226.0" fill="none" stroke="#d63440" stroke-width="1.7" stroke-linejoin="round"/>
<line x1="301.1" y1="226.8" x2="301.1" y2="208.3" stroke="#d63440" stroke-width="1.7"/>
<line x1="300.5" y1="154.4" x2="300.5" y2="226.8" stroke="#808080" stroke-width="1.1"/>
<line x1="299.2" y1="157.7" x2="300.5" y2="157.7" stroke="#666" stroke-width="0.6"/>
<line x1="299.2" y1="164.6" x2="300.5" y2="164.6" stroke="#666" stroke-width="0.6"/>
<line x1="299.2" y1="171.5" x2="300.5" y2="171.5" stroke="#666" stroke-width="0.6"/>
<line x1="299.2" y1="178.4" x2="300.5" y2="178.4" stroke="#666" stroke-width="0.6"/>
<line x1="299.2" y1="185.3" x2="300.5" y2="185.3" stroke="#666" stroke-width="0.6"/>
<line x1="299.2" y1="192.2" x2="300.5" y2="192.2" stroke="#666" stroke-width="0.6"/>
<line x1="299.2" y1="199.1" x2="300.5" y2="199.1" stroke="#666" stroke-width="0.6"/>
<line x1="299.2" y1="206.1" x2="300.5" y2="206.1" stroke="#666" stroke-width="0.6"/>
<line x1="299.2" y1="213.0" x2="300.5" y2="213.0" stroke="#666" stroke-width="0.6"/>
<line x1="299.2" y1="219.9" x2="300.5" y2="219.9" stroke="#666" stroke-width="0.6"/>
<line x1="299.2" y1="226.8" x2="300.5" y2="226.8" stroke="#666" stroke-width="0.6"/>
<line x1="298.3" y1="157.7" x2="300.5" y2="157.7" stroke="#555" stroke-width="0.8"/>
<text transform="translate(297.5 159.1) scale(0.75 1.0)" font-size="4.2" font-weight="normal" font-style="normal" text-anchor="end" fill="#444" >100</text>
<line x1="298.3" y1="171.5" x2="300.5" y2="171.5" stroke="#555" stroke-width="0.8"/>
<text transform="translate(297.5 172.9) scale(0.75 1.0)" font-size="4.2" font-weight="normal" font-style="normal" text-anchor="end" fill="#444" >80</text>
<line x1="298.3" y1="185.3" x2="300.5" y2="185.3" stroke="#555" stroke-width="0.8"/>
<text transform="translate(297.5 186.7) scale(0.75 1.0)" font-size="4.2" font-weight="normal" font-style="normal" text-anchor="end" fill="#444" >60</text>
<line x1="298.3" y1="199.1" x2="300.5" y2="199.1" stroke="#555" stroke-width="0.8"/>
<text transform="translate(297.5 200.5) scale(0.75 1.0)" font-size="4.2" font-weight="normal" font-style="normal" text-anchor="end" fill="#444" >40</text>
<line x1="298.3" y1="213.0" x2="300.5" y2="213.0" stroke="#555" stroke-width="0.8"/>
<text transform="translate(297.5 214.4) scale(0.75 1.0)" font-size="4.2" font-weight="normal" font-style="normal" text-anchor="end" fill="#444" >20</text>
<line x1="298.3" y1="226.8" x2="300.5" y2="226.8" stroke="#555" stroke-width="0.8"/>
<text transform="translate(297.5 228.2) scale(0.75 1.0)" font-size="4.2" font-weight="normal" font-style="normal" text-anchor="end" fill="#444" >0</text>
<text x="290.5" y="192.10000000000002" font-size="4.2" fill="#333" text-anchor="middle" transform="rotate(-90 290.5 192.10000000000002)">% of Max</text>
<line x1="300.5" y1="226.8" x2="300.5" y2="229.0" stroke="#999" stroke-width="0.5"/>
<line x1="306.6" y1="226.8" x2="306.6" y2="228.0" stroke="#999" stroke-width="0.5"/>
<line x1="310.2" y1="226.8" x2="310.2" y2="228.0" stroke="#999" stroke-width="0.5"/>
<line x1="312.6" y1="226.8" x2="312.6" y2="228.0" stroke="#999" stroke-width="0.5"/>
<line x1="314.7" y1="226.8" x2="314.7" y2="228.0" stroke="#999" stroke-width="0.5"/>
<line x1="316.3" y1="226.8" x2="316.3" y2="228.0" stroke="#999" stroke-width="0.5"/>
<line x1="317.7" y1="226.8" x2="317.7" y2="228.0" stroke="#999" stroke-width="0.5"/>
<line x1="318.7" y1="226.8" x2="318.7" y2="228.0" stroke="#999" stroke-width="0.5"/>
<line x1="319.7" y1="226.8" x2="319.7" y2="228.0" stroke="#999" stroke-width="0.5"/>
<line x1="320.8" y1="226.8" x2="320.8" y2="229.0" stroke="#999" stroke-width="0.5"/>
<line x1="326.8" y1="226.8" x2="326.8" y2="228.0" stroke="#999" stroke-width="0.5"/>
<line x1="330.5" y1="226.8" x2="330.5" y2="228.0" stroke="#999" stroke-width="0.5"/>
<line x1="332.9" y1="226.8" x2="332.9" y2="228.0" stroke="#999" stroke-width="0.5"/>
<line x1="334.9" y1="226.8" x2="334.9" y2="228.0" stroke="#999" stroke-width="0.5"/>
<line x1="336.5" y1="226.8" x2="336.5" y2="228.0" stroke="#999" stroke-width="0.5"/>
<line x1="338.0" y1="226.8" x2="338.0" y2="228.0" stroke="#999" stroke-width="0.5"/>
<line x1="339.0" y1="226.8" x2="339.0" y2="228.0" stroke="#999" stroke-width="0.5"/>
<line x1="340.0" y1="226.8" x2="340.0" y2="228.0" stroke="#999" stroke-width="0.5"/>
<line x1="341.0" y1="226.8" x2="341.0" y2="229.0" stroke="#999" stroke-width="0.5"/>
<line x1="347.1" y1="226.8" x2="347.1" y2="228.0" stroke="#999" stroke-width="0.5"/>
<line x1="350.7" y1="226.8" x2="350.7" y2="228.0" stroke="#999" stroke-width="0.5"/>
<line x1="353.1" y1="226.8" x2="353.1" y2="228.0" stroke="#999" stroke-width="0.5"/>
<line x1="355.2" y1="226.8" x2="355.2" y2="228.0" stroke="#999" stroke-width="0.5"/>
<line x1="356.8" y1="226.8" x2="356.8" y2="228.0" stroke="#999" stroke-width="0.5"/>
<line x1="358.2" y1="226.8" x2="358.2" y2="228.0" stroke="#999" stroke-width="0.5"/>
<line x1="359.2" y1="226.8" x2="359.2" y2="228.0" stroke="#999" stroke-width="0.5"/>
<line x1="360.2" y1="226.8" x2="360.2" y2="228.0" stroke="#999" stroke-width="0.5"/>
<line x1="361.2" y1="226.8" x2="361.2" y2="229.0" stroke="#999" stroke-width="0.5"/>
<line x1="367.3" y1="226.8" x2="367.3" y2="228.0" stroke="#999" stroke-width="0.5"/>
<line x1="371.0" y1="226.8" x2="371.0" y2="228.0" stroke="#999" stroke-width="0.5"/>
<line x1="373.4" y1="226.8" x2="373.4" y2="228.0" stroke="#999" stroke-width="0.5"/>
<line x1="375.4" y1="226.8" x2="375.4" y2="228.0" stroke="#999" stroke-width="0.5"/>
<line x1="377.0" y1="226.8" x2="377.0" y2="228.0" stroke="#999" stroke-width="0.5"/>
<line x1="378.5" y1="226.8" x2="378.5" y2="228.0" stroke="#999" stroke-width="0.5"/>
<line x1="379.5" y1="226.8" x2="379.5" y2="228.0" stroke="#999" stroke-width="0.5"/>
<line x1="380.5" y1="226.8" x2="380.5" y2="228.0" stroke="#999" stroke-width="0.5"/>
<line x1="108" y1="234" x2="381.8" y2="234" stroke="#000" stroke-width="2.0"/>
<path d="M385.8,234 L377.0,230.1 L379.2,234 L377.0,237.9 Z" fill="#000" stroke="#000" stroke-width="0.9" stroke-linejoin="round"/>
<text x="247" y="246.8" font-size="12.5" font-weight="normal" font-style="normal" text-anchor="middle" fill="#000" >Toso</text>
<text x="50.6" y="275.0" font-size="14" font-weight="bold" font-style="normal" text-anchor="start" fill="#000" >B</text>
<polygon points="64.5,377.8 64.7,347.1 66.7,343.5 68.7,340.0 70.8,338.0 72.8,331.0 74.8,327.5 76.8,323.5 78.8,315.5 80.2,310.0 82.2,308.5 83.6,307.5 86.9,311.5 89.6,320.2 92.3,333.7 94.3,347.1 96.3,359.3 98.4,367.3 101.0,371.4 105.8,374.0 111.1,376.8 116.0,377.6 116.0,377.8" fill="#cdcdcd" stroke="#8a8a8a" stroke-width="0.8" stroke-linejoin="round"/>
<rect x="64" y="300.4" width="117.19999999999999" height="77.40000000000003" fill="none" stroke="#ababab" stroke-width="1.1"/>
<polyline points="64.7,349.8 66.7,344.5 68.7,340.4 70.8,338.4 72.8,331.0 74.8,327.0 76.8,322.9 78.8,314.8 80.2,308.8 82.2,306.8 84.0,305.4 85.6,309.5 87.6,313.5 88.9,317.5 90.3,325.6 91.6,336.4 93.0,347.1 95.0,357.9 97.0,366.0 99.0,370.0 101.7,370.7 104.4,371.4 107.1,372.7 109.8,375.4 112.5,376.9 117.9,377.0 180.7,377.0" fill="none" stroke="#d4202c" stroke-width="2.3" stroke-linejoin="round"/>
<line x1="64.6" y1="377.8" x2="64.6" y2="300.4" stroke="#d4202c" stroke-width="2.3"/>
<line x1="64" y1="300.4" x2="64" y2="377.8" stroke="#808080" stroke-width="1.1"/>
<line x1="62.7" y1="303.9" x2="64" y2="303.9" stroke="#666" stroke-width="0.6"/>
<line x1="62.7" y1="311.3" x2="64" y2="311.3" stroke="#666" stroke-width="0.6"/>
<line x1="62.7" y1="318.7" x2="64" y2="318.7" stroke="#666" stroke-width="0.6"/>
<line x1="62.7" y1="326.1" x2="64" y2="326.1" stroke="#666" stroke-width="0.6"/>
<line x1="62.7" y1="333.4" x2="64" y2="333.4" stroke="#666" stroke-width="0.6"/>
<line x1="62.7" y1="340.8" x2="64" y2="340.8" stroke="#666" stroke-width="0.6"/>
<line x1="62.7" y1="348.2" x2="64" y2="348.2" stroke="#666" stroke-width="0.6"/>
<line x1="62.7" y1="355.6" x2="64" y2="355.6" stroke="#666" stroke-width="0.6"/>
<line x1="62.7" y1="363.0" x2="64" y2="363.0" stroke="#666" stroke-width="0.6"/>
<line x1="62.7" y1="370.4" x2="64" y2="370.4" stroke="#666" stroke-width="0.6"/>
<line x1="62.7" y1="377.8" x2="64" y2="377.8" stroke="#666" stroke-width="0.6"/>
<line x1="61.8" y1="303.9" x2="64" y2="303.9" stroke="#555" stroke-width="0.8"/>
<text transform="translate(60 305.3) scale(0.75 1.0)" font-size="4.8" font-weight="normal" font-style="normal" text-anchor="end" fill="#444" >100</text>
<line x1="61.8" y1="318.7" x2="64" y2="318.7" stroke="#555" stroke-width="0.8"/>
<text transform="translate(60 320.1) scale(0.75 1.0)" font-size="4.8" font-weight="normal" font-style="normal" text-anchor="end" fill="#444" >80</text>
<line x1="61.8" y1="333.4" x2="64" y2="333.4" stroke="#555" stroke-width="0.8"/>
<text transform="translate(60 334.8) scale(0.75 1.0)" font-size="4.8" font-weight="normal" font-style="normal" text-anchor="end" fill="#444" >60</text>
<line x1="61.8" y1="348.2" x2="64" y2="348.2" stroke="#555" stroke-width="0.8"/>
<text transform="translate(60 349.6) scale(0.75 1.0)" font-size="4.8" font-weight="normal" font-style="normal" text-anchor="end" fill="#444" >40</text>
<line x1="61.8" y1="363.0" x2="64" y2="363.0" stroke="#555" stroke-width="0.8"/>
<text transform="translate(60 364.4) scale(0.75 1.0)" font-size="4.8" font-weight="normal" font-style="normal" text-anchor="end" fill="#444" >20</text>
<line x1="61.8" y1="377.8" x2="64" y2="377.8" stroke="#555" stroke-width="0.8"/>
<text transform="translate(60 379.2) scale(0.75 1.0)" font-size="4.8" font-weight="normal" font-style="normal" text-anchor="end" fill="#444" >0</text>
<text x="47.5" y="340.6" font-size="4.8" fill="#333" text-anchor="middle" transform="rotate(-90 47.5 340.6)">% of Max</text>
<line x1="64.0" y1="377.8" x2="64.0" y2="380.0" stroke="#999" stroke-width="0.5"/>
<line x1="72.8" y1="377.8" x2="72.8" y2="379.0" stroke="#999" stroke-width="0.5"/>
<line x1="78.1" y1="377.8" x2="78.1" y2="379.0" stroke="#999" stroke-width="0.5"/>
<line x1="81.6" y1="377.8" x2="81.6" y2="379.0" stroke="#999" stroke-width="0.5"/>
<line x1="84.5" y1="377.8" x2="84.5" y2="379.0" stroke="#999" stroke-width="0.5"/>
<line x1="86.9" y1="377.8" x2="86.9" y2="379.0" stroke="#999" stroke-width="0.5"/>
<line x1="88.9" y1="377.8" x2="88.9" y2="379.0" stroke="#999" stroke-width="0.5"/>
<line x1="90.4" y1="377.8" x2="90.4" y2="379.0" stroke="#999" stroke-width="0.5"/>
<line x1="91.8" y1="377.8" x2="91.8" y2="379.0" stroke="#999" stroke-width="0.5"/>
<line x1="93.3" y1="377.8" x2="93.3" y2="380.0" stroke="#999" stroke-width="0.5"/>
<line x1="102.1" y1="377.8" x2="102.1" y2="379.0" stroke="#999" stroke-width="0.5"/>
<line x1="107.4" y1="377.8" x2="107.4" y2="379.0" stroke="#999" stroke-width="0.5"/>
<line x1="110.9" y1="377.8" x2="110.9" y2="379.0" stroke="#999" stroke-width="0.5"/>
<line x1="113.8" y1="377.8" x2="113.8" y2="379.0" stroke="#999" stroke-width="0.5"/>
<line x1="116.2" y1="377.8" x2="116.2" y2="379.0" stroke="#999" stroke-width="0.5"/>
<line x1="118.2" y1="377.8" x2="118.2" y2="379.0" stroke="#999" stroke-width="0.5"/>
<line x1="119.7" y1="377.8" x2="119.7" y2="379.0" stroke="#999" stroke-width="0.5"/>
<line x1="121.1" y1="377.8" x2="121.1" y2="379.0" stroke="#999" stroke-width="0.5"/>
<line x1="122.6" y1="377.8" x2="122.6" y2="380.0" stroke="#999" stroke-width="0.5"/>
<line x1="131.4" y1="377.8" x2="131.4" y2="379.0" stroke="#999" stroke-width="0.5"/>
<line x1="136.7" y1="377.8" x2="136.7" y2="379.0" stroke="#999" stroke-width="0.5"/>
<line x1="140.2" y1="377.8" x2="140.2" y2="379.0" stroke="#999" stroke-width="0.5"/>
<line x1="143.1" y1="377.8" x2="143.1" y2="379.0" stroke="#999" stroke-width="0.5"/>
<line x1="145.5" y1="377.8" x2="145.5" y2="379.0" stroke="#999" stroke-width="0.5"/>
<line x1="147.5" y1="377.8" x2="147.5" y2="379.0" stroke="#999" stroke-width="0.5"/>
<line x1="149.0" y1="377.8" x2="149.0" y2="379.0" stroke="#999" stroke-width="0.5"/>
<line x1="150.4" y1="377.8" x2="150.4" y2="379.0" stroke="#999" stroke-width="0.5"/>
<line x1="151.9" y1="377.8" x2="151.9" y2="380.0" stroke="#999" stroke-width="0.5"/>
<line x1="160.7" y1="377.8" x2="160.7" y2="379.0" stroke="#999" stroke-width="0.5"/>
<line x1="166.0" y1="377.8" x2="166.0" y2="379.0" stroke="#999" stroke-width="0.5"/>
<line x1="169.5" y1="377.8" x2="169.5" y2="379.0" stroke="#999" stroke-width="0.5"/>
<line x1="172.4" y1="377.8" x2="172.4" y2="379.0" stroke="#999" stroke-width="0.5"/>
<line x1="174.8" y1="377.8" x2="174.8" y2="379.0" stroke="#999" stroke-width="0.5"/>
<line x1="176.8" y1="377.8" x2="176.8" y2="379.0" stroke="#999" stroke-width="0.5"/>
<line x1="178.3" y1="377.8" x2="178.3" y2="379.0" stroke="#999" stroke-width="0.5"/>
<line x1="179.7" y1="377.8" x2="179.7" y2="379.0" stroke="#999" stroke-width="0.5"/>
<polygon points="64.3,468.4 66.1,452.3 68.1,433.5 70.1,441.5 72.1,434.8 73.5,433.5 75.5,432.1 77.5,430.8 79.5,425.4 81.5,424.0 83.6,420.0 85.6,416.0 87.6,410.6 89.6,405.2 91.6,397.8 93.0,407.9 94.3,420.0 95.7,428.1 97.0,433.5 98.4,442.9 100.4,444.2 102.4,447.6 105.1,448.3 107.8,446.9 109.8,448.3 112.5,446.9 114.5,444.2 116.3,436.2 117.9,444.2 119.2,446.9 121.2,440.2 123.3,436.2 126.0,433.5 125.0,436.2 126.3,434.8 128.4,430.8 130.4,434.8 132.4,433.5 134.4,441.5 137.1,441.5 138.5,444.2 140.5,449.6 142.5,452.3 145.2,453.7 147.2,457.7 149.9,461.1 153.3,463.1 156.0,465.8 160.0,467.1 164.0,468.5 164.0,468.4" fill="#cdcdcd" stroke="#8a8a8a" stroke-width="0.8" stroke-linejoin="round"/>
<rect x="63.8" y="393.4" width="117.50000000000001" height="75.0" fill="none" stroke="#ababab" stroke-width="1.1"/>
<polyline points="65.4,452.3 67.4,442.9 69.4,446.2 72.1,444.9 74.8,438.8 76.2,432.1 78.2,441.5 80.2,438.8 81.5,432.1 82.9,434.8 84.9,426.7 86.2,416.0 88.3,409.2 89.6,399.8 91.0,409.2 93.0,405.2 94.3,406.5 95.7,413.3 97.4,402.5 99.0,416.0 100.4,418.7 102.4,424.7 104.4,429.4 107.1,431.4 109.1,418.7 110.5,424.0 112.5,424.0 113.8,422.7 115.2,410.6 116.5,416.0 118.6,405.2 120.6,407.9 122.6,406.5 124.6,410.6 126.6,398.5 125.0,411.9 126.3,398.5 127.7,409.2 129.7,409.9 131.7,399.8 133.7,403.8 135.8,416.0 137.1,420.7 139.1,422.0 141.2,420.7 142.5,410.6 143.8,424.0 145.2,426.7 147.2,426.7 149.2,430.1 151.2,432.1 152.6,434.8 153.9,433.5 155.3,442.9 157.3,448.3 159.3,459.0 161.3,463.1 164.0,464.4 166.7,467.8 169.4,468.2 180.8,468.2" fill="none" stroke="#d4202c" stroke-width="2.3" stroke-linejoin="round"/>
<line x1="64.39999999999999" y1="468.4" x2="64.39999999999999" y2="393.4" stroke="#d4202c" stroke-width="2.3"/>
<line x1="63.8" y1="393.4" x2="63.8" y2="468.4" stroke="#808080" stroke-width="1.1"/>
<line x1="62.5" y1="396.8" x2="63.8" y2="396.8" stroke="#666" stroke-width="0.6"/>
<line x1="62.5" y1="403.9" x2="63.8" y2="403.9" stroke="#666" stroke-width="0.6"/>
<line x1="62.5" y1="411.1" x2="63.8" y2="411.1" stroke="#666" stroke-width="0.6"/>
<line x1="62.5" y1="418.3" x2="63.8" y2="418.3" stroke="#666" stroke-width="0.6"/>
<line x1="62.5" y1="425.4" x2="63.8" y2="425.4" stroke="#666" stroke-width="0.6"/>
<line x1="62.5" y1="432.6" x2="63.8" y2="432.6" stroke="#666" stroke-width="0.6"/>
<line x1="62.5" y1="439.8" x2="63.8" y2="439.8" stroke="#666" stroke-width="0.6"/>
<line x1="62.5" y1="446.9" x2="63.8" y2="446.9" stroke="#666" stroke-width="0.6"/>
<line x1="62.5" y1="454.1" x2="63.8" y2="454.1" stroke="#666" stroke-width="0.6"/>
<line x1="62.5" y1="461.2" x2="63.8" y2="461.2" stroke="#666" stroke-width="0.6"/>
<line x1="62.5" y1="468.4" x2="63.8" y2="468.4" stroke="#666" stroke-width="0.6"/>
<line x1="61.599999999999994" y1="396.8" x2="63.8" y2="396.8" stroke="#555" stroke-width="0.8"/>
<text transform="translate(59.8 398.2) scale(0.75 1.0)" font-size="4.8" font-weight="normal" font-style="normal" text-anchor="end" fill="#444" >100</text>
<line x1="61.599999999999994" y1="411.1" x2="63.8" y2="411.1" stroke="#555" stroke-width="0.8"/>
<text transform="translate(59.8 412.5) scale(0.75 1.0)" font-size="4.8" font-weight="normal" font-style="normal" text-anchor="end" fill="#444" >80</text>
<line x1="61.599999999999994" y1="425.4" x2="63.8" y2="425.4" stroke="#555" stroke-width="0.8"/>
<text transform="translate(59.8 426.8) scale(0.75 1.0)" font-size="4.8" font-weight="normal" font-style="normal" text-anchor="end" fill="#444" >60</text>
<line x1="61.599999999999994" y1="439.8" x2="63.8" y2="439.8" stroke="#555" stroke-width="0.8"/>
<text transform="translate(59.8 441.1) scale(0.75 1.0)" font-size="4.8" font-weight="normal" font-style="normal" text-anchor="end" fill="#444" >40</text>
<line x1="61.599999999999994" y1="454.1" x2="63.8" y2="454.1" stroke="#555" stroke-width="0.8"/>
<text transform="translate(59.8 455.5) scale(0.75 1.0)" font-size="4.8" font-weight="normal" font-style="normal" text-anchor="end" fill="#444" >20</text>
<line x1="61.599999999999994" y1="468.4" x2="63.8" y2="468.4" stroke="#555" stroke-width="0.8"/>
<text transform="translate(59.8 469.8) scale(0.75 1.0)" font-size="4.8" font-weight="normal" font-style="normal" text-anchor="end" fill="#444" >0</text>
<text x="47.3" y="432.4" font-size="4.8" fill="#333" text-anchor="middle" transform="rotate(-90 47.3 432.4)">% of Max</text>
<line x1="63.8" y1="468.4" x2="63.8" y2="470.59999999999997" stroke="#999" stroke-width="0.5"/>
<line x1="72.6" y1="468.4" x2="72.6" y2="469.59999999999997" stroke="#999" stroke-width="0.5"/>
<line x1="77.9" y1="468.4" x2="77.9" y2="469.59999999999997" stroke="#999" stroke-width="0.5"/>
<line x1="81.4" y1="468.4" x2="81.4" y2="469.59999999999997" stroke="#999" stroke-width="0.5"/>
<line x1="84.4" y1="468.4" x2="84.4" y2="469.59999999999997" stroke="#999" stroke-width="0.5"/>
<line x1="86.7" y1="468.4" x2="86.7" y2="469.59999999999997" stroke="#999" stroke-width="0.5"/>
<line x1="88.8" y1="468.4" x2="88.8" y2="469.59999999999997" stroke="#999" stroke-width="0.5"/>
<line x1="90.2" y1="468.4" x2="90.2" y2="469.59999999999997" stroke="#999" stroke-width="0.5"/>
<line x1="91.7" y1="468.4" x2="91.7" y2="469.59999999999997" stroke="#999" stroke-width="0.5"/>
<line x1="93.2" y1="468.4" x2="93.2" y2="470.59999999999997" stroke="#999" stroke-width="0.5"/>
<line x1="102.0" y1="468.4" x2="102.0" y2="469.59999999999997" stroke="#999" stroke-width="0.5"/>
<line x1="107.3" y1="468.4" x2="107.3" y2="469.59999999999997" stroke="#999" stroke-width="0.5"/>
<line x1="110.8" y1="468.4" x2="110.8" y2="469.59999999999997" stroke="#999" stroke-width="0.5"/>
<line x1="113.7" y1="468.4" x2="113.7" y2="469.59999999999997" stroke="#999" stroke-width="0.5"/>
<line x1="116.1" y1="468.4" x2="116.1" y2="469.59999999999997" stroke="#999" stroke-width="0.5"/>
<line x1="118.1" y1="468.4" x2="118.1" y2="469.59999999999997" stroke="#999" stroke-width="0.5"/>
<line x1="119.6" y1="468.4" x2="119.6" y2="469.59999999999997" stroke="#999" stroke-width="0.5"/>
<line x1="121.1" y1="468.4" x2="121.1" y2="469.59999999999997" stroke="#999" stroke-width="0.5"/>
<line x1="122.6" y1="468.4" x2="122.6" y2="470.59999999999997" stroke="#999" stroke-width="0.5"/>
<line x1="131.4" y1="468.4" x2="131.4" y2="469.59999999999997" stroke="#999" stroke-width="0.5"/>
<line x1="136.7" y1="468.4" x2="136.7" y2="469.59999999999997" stroke="#999" stroke-width="0.5"/>
<line x1="140.2" y1="468.4" x2="140.2" y2="469.59999999999997" stroke="#999" stroke-width="0.5"/>
<line x1="143.1" y1="468.4" x2="143.1" y2="469.59999999999997" stroke="#999" stroke-width="0.5"/>
<line x1="145.5" y1="468.4" x2="145.5" y2="469.59999999999997" stroke="#999" stroke-width="0.5"/>
<line x1="147.5" y1="468.4" x2="147.5" y2="469.59999999999997" stroke="#999" stroke-width="0.5"/>
<line x1="149.0" y1="468.4" x2="149.0" y2="469.59999999999997" stroke="#999" stroke-width="0.5"/>
<line x1="150.5" y1="468.4" x2="150.5" y2="469.59999999999997" stroke="#999" stroke-width="0.5"/>
<line x1="151.9" y1="468.4" x2="151.9" y2="470.59999999999997" stroke="#999" stroke-width="0.5"/>
<line x1="160.7" y1="468.4" x2="160.7" y2="469.59999999999997" stroke="#999" stroke-width="0.5"/>
<line x1="166.0" y1="468.4" x2="166.0" y2="469.59999999999997" stroke="#999" stroke-width="0.5"/>
<line x1="169.6" y1="468.4" x2="169.6" y2="469.59999999999997" stroke="#999" stroke-width="0.5"/>
<line x1="172.5" y1="468.4" x2="172.5" y2="469.59999999999997" stroke="#999" stroke-width="0.5"/>
<line x1="174.8" y1="468.4" x2="174.8" y2="469.59999999999997" stroke="#999" stroke-width="0.5"/>
<line x1="176.9" y1="468.4" x2="176.9" y2="469.59999999999997" stroke="#999" stroke-width="0.5"/>
<line x1="178.4" y1="468.4" x2="178.4" y2="469.59999999999997" stroke="#999" stroke-width="0.5"/>
<line x1="179.8" y1="468.4" x2="179.8" y2="469.59999999999997" stroke="#999" stroke-width="0.5"/>
<text x="188" y="346.5" font-size="13" font-weight="normal" font-style="normal" text-anchor="start" fill="#000" ><tspan font-weight="bold">-</tspan> TNF<tspan font-family="Liberation Serif" font-size="15">&#945;</tspan></text>
<text x="188" y="442.3" font-size="13" font-weight="normal" font-style="normal" text-anchor="start" fill="#000" ><tspan font-weight="bold">+</tspan> TNF<tspan font-family="Liberation Serif" font-size="15">&#945;</tspan></text>
<line x1="63" y1="478.8" x2="175.6" y2="478.8" stroke="#000" stroke-width="2.0"/>
<path d="M179.6,478.8 L170.79999999999998,474.90000000000003 L173.0,478.8 L170.79999999999998,482.7 Z" fill="#000" stroke="#000" stroke-width="0.9" stroke-linejoin="round"/>
<text x="116.6" y="493.2" font-size="12.5" font-weight="normal" font-style="normal" text-anchor="middle" fill="#000" >CD69</text>
<text x="268.3" y="274.3" font-size="14" font-weight="bold" font-style="normal" text-anchor="start" fill="#000" >C</text>
<line x1="319.9" y1="281.6" x2="319.9" y2="486" stroke="#000" stroke-width="2.4"/>
<line x1="318.8" y1="484.8" x2="469.5" y2="484.8" stroke="#000" stroke-width="2.4"/>
<line x1="316" y1="282.4" x2="320" y2="282.4" stroke="#000" stroke-width="2.2"/>
<text x="308.7" y="286.0" font-size="12.5" font-weight="bold" font-style="normal" text-anchor="end" fill="#000" >50</text>
<line x1="316" y1="322.8" x2="320" y2="322.8" stroke="#000" stroke-width="2.2"/>
<text x="308.7" y="326.4" font-size="12.5" font-weight="bold" font-style="normal" text-anchor="end" fill="#000" >40</text>
<line x1="316" y1="363.3" x2="320" y2="363.3" stroke="#000" stroke-width="2.2"/>
<text x="308.7" y="366.9" font-size="12.5" font-weight="bold" font-style="normal" text-anchor="end" fill="#000" >30</text>
<line x1="316" y1="403.8" x2="320" y2="403.8" stroke="#000" stroke-width="2.2"/>
<text x="308.7" y="407.4" font-size="12.5" font-weight="bold" font-style="normal" text-anchor="end" fill="#000" >20</text>
<line x1="316" y1="444.2" x2="320" y2="444.2" stroke="#000" stroke-width="2.2"/>
<text x="308.7" y="447.8" font-size="12.5" font-weight="bold" font-style="normal" text-anchor="end" fill="#000" >10</text>
<line x1="316" y1="484.6" x2="320" y2="484.6" stroke="#000" stroke-width="2.2"/>
<text x="308.7" y="488.2" font-size="12.5" font-weight="bold" font-style="normal" text-anchor="end" fill="#000" >0</text>
<line x1="320.4" y1="484" x2="320.4" y2="488.4" stroke="#000" stroke-width="2.2"/>
<line x1="395" y1="484" x2="395" y2="488.4" stroke="#000" stroke-width="2.2"/>
<line x1="468.6" y1="484" x2="468.6" y2="488.4" stroke="#000" stroke-width="2.2"/>
<line x1="344.2" y1="444.4" x2="344.2" y2="452.2" stroke="#000" stroke-width="2.2"/>
<line x1="342.0" y1="444.4" x2="346.4" y2="444.4" stroke="#000" stroke-width="2.2"/>
<rect x="329.6" y="452.2" width="29.799999999999955" height="32.60000000000002" fill="#000"/>
<line x1="371.2" y1="454.8" x2="371.2" y2="458.6" stroke="#000" stroke-width="2.2"/>
<line x1="369.0" y1="454.8" x2="373.4" y2="454.8" stroke="#000" stroke-width="2.2"/>
<rect x="360.1" y="459.70000000000005" width="24.400000000000023" height="25.099999999999987" fill="#fff" stroke="#000" stroke-width="2.2"/>
<line x1="418.5" y1="384.8" x2="418.5" y2="401.7" stroke="#000" stroke-width="2.2"/>
<line x1="416.3" y1="384.8" x2="420.7" y2="384.8" stroke="#000" stroke-width="2.2"/>
<rect x="403.7" y="401.7" width="29.30000000000001" height="83.10000000000002" fill="#000"/>
<line x1="445.8" y1="292.5" x2="445.8" y2="320.8" stroke="#000" stroke-width="2.2"/>
<line x1="443.6" y1="292.5" x2="448.0" y2="292.5" stroke="#000" stroke-width="2.2"/>
<rect x="432.90000000000003" y="321.90000000000003" width="25.99999999999999" height="162.9" fill="#fff" stroke="#000" stroke-width="2.2"/>
<path d="M399.4,290.8 V280.8 H461.2 V290.8" fill="none" stroke="#000" stroke-width="1.4"/>
<text transform="translate(426.1 274.85) scale(1.0 0.85)" font-size="18" font-weight="bold" font-style="normal" text-anchor="start" fill="#000" >**</text>
<rect x="331" y="307" width="14.4" height="13.8" fill="#000"/>
<rect x="332.3" y="328" width="11.8" height="11.6" fill="#fff" stroke="#000" stroke-width="2.6"/>
<text x="351.7" y="317.7" font-size="12.5" font-weight="bold" font-style="normal" text-anchor="start" fill="#000" >WT</text>
<text transform="translate(351.0 337.4) scale(1.13 1.0)" font-size="12.5" font-weight="bold" font-style="italic" text-anchor="start" fill="#000" >Toso<tspan font-size="10" dy="-6.2" letter-spacing="0.3">-/-</tspan></text>
<text x="283.5" y="396.1" font-size="13.8" text-anchor="middle" transform="rotate(-90 283.5 396.1)">apoptosis (%)</text>
<text transform="translate(355.3 503.2) scale(1.07 1.0)" font-size="13" font-weight="normal" font-style="normal" text-anchor="middle" fill="#000" ><tspan font-weight="bold">-</tspan> TNF<tspan font-family="Liberation Serif" font-size="15">&#945;</tspan></text>
<text transform="translate(434.8 503.2) scale(1.07 1.0)" font-size="13" font-weight="normal" font-style="normal" text-anchor="middle" fill="#000" ><tspan font-weight="bold">+</tspan> TNF<tspan font-family="Liberation Serif" font-size="15">&#945;</tspan></text>
<text x="7.3" y="531.0" font-size="14" font-weight="bold" font-style="normal" text-anchor="start" fill="#000" >D</text>
<line x1="73" y1="539.4" x2="73" y2="743" stroke="#000" stroke-width="2.4"/>
<line x1="71.8" y1="741.6" x2="214" y2="741.6" stroke="#000" stroke-width="2.4"/>
<line x1="69" y1="540.3" x2="73" y2="540.3" stroke="#000" stroke-width="2.2"/>
<text transform="translate(60.4 544.5) scale(1.13 1)" font-size="12" font-weight="bold" text-anchor="end">4000</text>
<line x1="69" y1="590.6" x2="73" y2="590.6" stroke="#000" stroke-width="2.2"/>
<text transform="translate(60.4 594.8) scale(1.13 1)" font-size="12" font-weight="bold" text-anchor="end">3000</text>
<line x1="69" y1="640.9" x2="73" y2="640.9" stroke="#000" stroke-width="2.2"/>
<text transform="translate(60.4 645.1) scale(1.13 1)" font-size="12" font-weight="bold" text-anchor="end">2000</text>
<line x1="69" y1="691.2" x2="73" y2="691.2" stroke="#000" stroke-width="2.2"/>
<text transform="translate(60.4 695.4) scale(1.13 1)" font-size="12" font-weight="bold" text-anchor="end">1000</text>
<line x1="69" y1="741.5" x2="73" y2="741.5" stroke="#000" stroke-width="2.2"/>
<text transform="translate(60.4 745.7) scale(1.13 1)" font-size="12" font-weight="bold" text-anchor="end">0</text>
<line x1="73" y1="741" x2="73" y2="746" stroke="#000" stroke-width="2.2"/>
<line x1="144" y1="741" x2="144" y2="746" stroke="#000" stroke-width="2.2"/>
<line x1="213" y1="741" x2="213" y2="746" stroke="#000" stroke-width="2.2"/>
<line x1="95.5" y1="735.3" x2="95.5" y2="736.9" stroke="#000" stroke-width="2.2"/>
<line x1="93.3" y1="735.3" x2="97.7" y2="735.3" stroke="#000" stroke-width="2.2"/>
<rect x="81.6" y="736.9" width="27.80000000000001" height="4.7000000000000455" fill="#000"/>
<line x1="122" y1="738.5" x2="122" y2="738.3" stroke="#000" stroke-width="2.2"/>
<line x1="119.8" y1="738.5" x2="124.2" y2="738.5" stroke="#000" stroke-width="2.2"/>
<rect x="110.3" y="739.4" width="23.40000000000001" height="2.200000000000068" fill="#fff" stroke="#000" stroke-width="2.2"/>
<line x1="166" y1="563.5" x2="166" y2="593.2" stroke="#000" stroke-width="2.2"/>
<line x1="163.8" y1="563.5" x2="168.2" y2="563.5" stroke="#000" stroke-width="2.2"/>
<rect x="152.3" y="593.2" width="27.299999999999983" height="148.39999999999998" fill="#000"/>
<line x1="191.4" y1="708.7" x2="191.4" y2="720.1" stroke="#000" stroke-width="2.2"/>
<line x1="189.20000000000002" y1="708.7" x2="193.6" y2="708.7" stroke="#000" stroke-width="2.2"/>
<rect x="180.29999999999998" y="721.2" width="23.400000000000023" height="20.4" fill="#fff" stroke="#000" stroke-width="2.2"/>
<path d="M149.6,563 V552.7 H211 V563" fill="none" stroke="#000" stroke-width="1.4"/>
<text transform="translate(176.3 547.65) scale(1.0 0.85)" font-size="18" font-weight="bold" font-style="normal" text-anchor="start" fill="#000" >**</text>
<rect x="80.8" y="522.5" width="14" height="13.8" fill="#000"/>
<rect x="82.1" y="543.3" width="11.4" height="11.2" fill="#fff" stroke="#000" stroke-width="2.6"/>
<text transform="translate(101 533.5) scale(1.04 1.0)" font-size="13" font-weight="bold" font-style="normal" text-anchor="start" fill="#000" >WT</text>
<text transform="translate(100.3 553.2) scale(1.04 1.0)" font-size="13" font-weight="bold" font-style="italic" text-anchor="start" fill="#000" >Toso<tspan font-size="10.5" dy="-6.3" letter-spacing="0.8">-/-</tspan></text>
<text x="108.5" y="765.8" font-size="13" font-weight="bold" font-style="normal" text-anchor="middle" fill="#000" >3h</text>
<text x="178.2" y="765.8" font-size="13" font-weight="bold" font-style="normal" text-anchor="middle" fill="#000" >6h</text>
<text x="12.8" y="639.3" font-size="14" font-weight="bold" text-anchor="middle" transform="rotate(-90 12.8 639.3)">ALT (U/L)</text>
<text x="244.6" y="532.4" font-size="14" font-weight="bold" font-style="normal" text-anchor="start" fill="#000" >E</text>
<line x1="294.8" y1="554.8" x2="294.8" y2="698" stroke="#000" stroke-width="2.7"/>
<line x1="293.5" y1="696.7" x2="509.5" y2="696.7" stroke="#000" stroke-width="2.8"/>
<line x1="288" y1="555.8" x2="295" y2="555.8" stroke="#000" stroke-width="2.4"/>
<text x="287.2" y="560.8" font-size="14" font-weight="bold" font-style="normal" text-anchor="end" fill="#000" >100</text>
<line x1="288" y1="583.9" x2="295" y2="583.9" stroke="#000" stroke-width="2.4"/>
<text x="287.2" y="588.9" font-size="14" font-weight="bold" font-style="normal" text-anchor="end" fill="#000" >80</text>
<line x1="288" y1="612.0" x2="295" y2="612.0" stroke="#000" stroke-width="2.4"/>
<text x="287.2" y="617.0" font-size="14" font-weight="bold" font-style="normal" text-anchor="end" fill="#000" >60</text>
<line x1="288" y1="640.0" x2="295" y2="640.0" stroke="#000" stroke-width="2.4"/>
<text x="287.2" y="645.0" font-size="14" font-weight="bold" font-style="normal" text-anchor="end" fill="#000" >40</text>
<line x1="288" y1="668.1" x2="295" y2="668.1" stroke="#000" stroke-width="2.4"/>
<text x="287.2" y="673.1" font-size="14" font-weight="bold" font-style="normal" text-anchor="end" fill="#000" >20</text>
<line x1="288" y1="696.2" x2="295" y2="696.2" stroke="#000" stroke-width="2.4"/>
<text x="287.2" y="701.2" font-size="14" font-weight="bold" font-style="normal" text-anchor="end" fill="#000" >0</text>
<line x1="294.4" y1="696" x2="294.4" y2="701.6" stroke="#000" stroke-width="2.4"/>
<text x="294.4" y="716" font-size="14" font-weight="bold" font-style="normal" text-anchor="middle" fill="#000" >0</text>
<line x1="401.6" y1="696" x2="401.6" y2="701.6" stroke="#000" stroke-width="2.4"/>
<text x="401.6" y="716" font-size="14" font-weight="bold" font-style="normal" text-anchor="middle" fill="#000" >25</text>
<line x1="508.6" y1="696" x2="508.6" y2="701.6" stroke="#000" stroke-width="2.4"/>
<text x="508.6" y="716" font-size="14" font-weight="bold" font-style="normal" text-anchor="middle" fill="#000" >50</text>
<text x="401" y="738" font-size="15" font-weight="bold" font-style="normal" text-anchor="middle" fill="#000" >Time (hours)</text>
<text x="254.6" y="620.5" font-size="15.6" font-weight="bold" text-anchor="middle" transform="rotate(-90 254.6 620.5)">Percent survival</text>
<line x1="342.9" y1="555.9" x2="348.2" y2="555.9" stroke="#000" stroke-width="2.2"/>
<line x1="351.3" y1="555.9" x2="360.9" y2="555.9" stroke="#000" stroke-width="2.2"/>
<line x1="359.8" y1="554.9" x2="359.8" y2="576.3" stroke="#000" stroke-width="2.4"/>
<line x1="358.6" y1="575.1" x2="500" y2="575.1" stroke="#000" stroke-width="2.4" stroke-dasharray="11 3.2"/>
<path d="M497.4,575.1 H500.6 V570.3" fill="none" stroke="#000" stroke-width="2.4"/>
<line x1="294.5" y1="555.9" x2="342.5" y2="555.9" stroke="#000" stroke-width="1.9"/>
<path d="M341.4,555.2 V615.1 H358.8 V655.5 H500.8 V651" fill="none" stroke="#000" stroke-width="2.5"/>
<line x1="426.2" y1="527.9" x2="448.4" y2="527.9" stroke="#000" stroke-width="2.6"/>
<line x1="426.7" y1="546.7" x2="448" y2="546.7" stroke="#000" stroke-width="3" stroke-dasharray="3 2.93"/>
<text transform="translate(459.7 531.2) scale(1.1 1.0)" font-size="12" font-weight="bold" font-style="normal" text-anchor="start" fill="#000" >WT</text>
<text transform="translate(459.3 550.2) scale(1.1 1.0)" font-size="12" font-weight="bold" font-style="italic" text-anchor="start" fill="#000" >Toso<tspan font-size="10" dy="-5.8" letter-spacing="0.6">-/-</tspan></text>
</svg>
</body></html>
